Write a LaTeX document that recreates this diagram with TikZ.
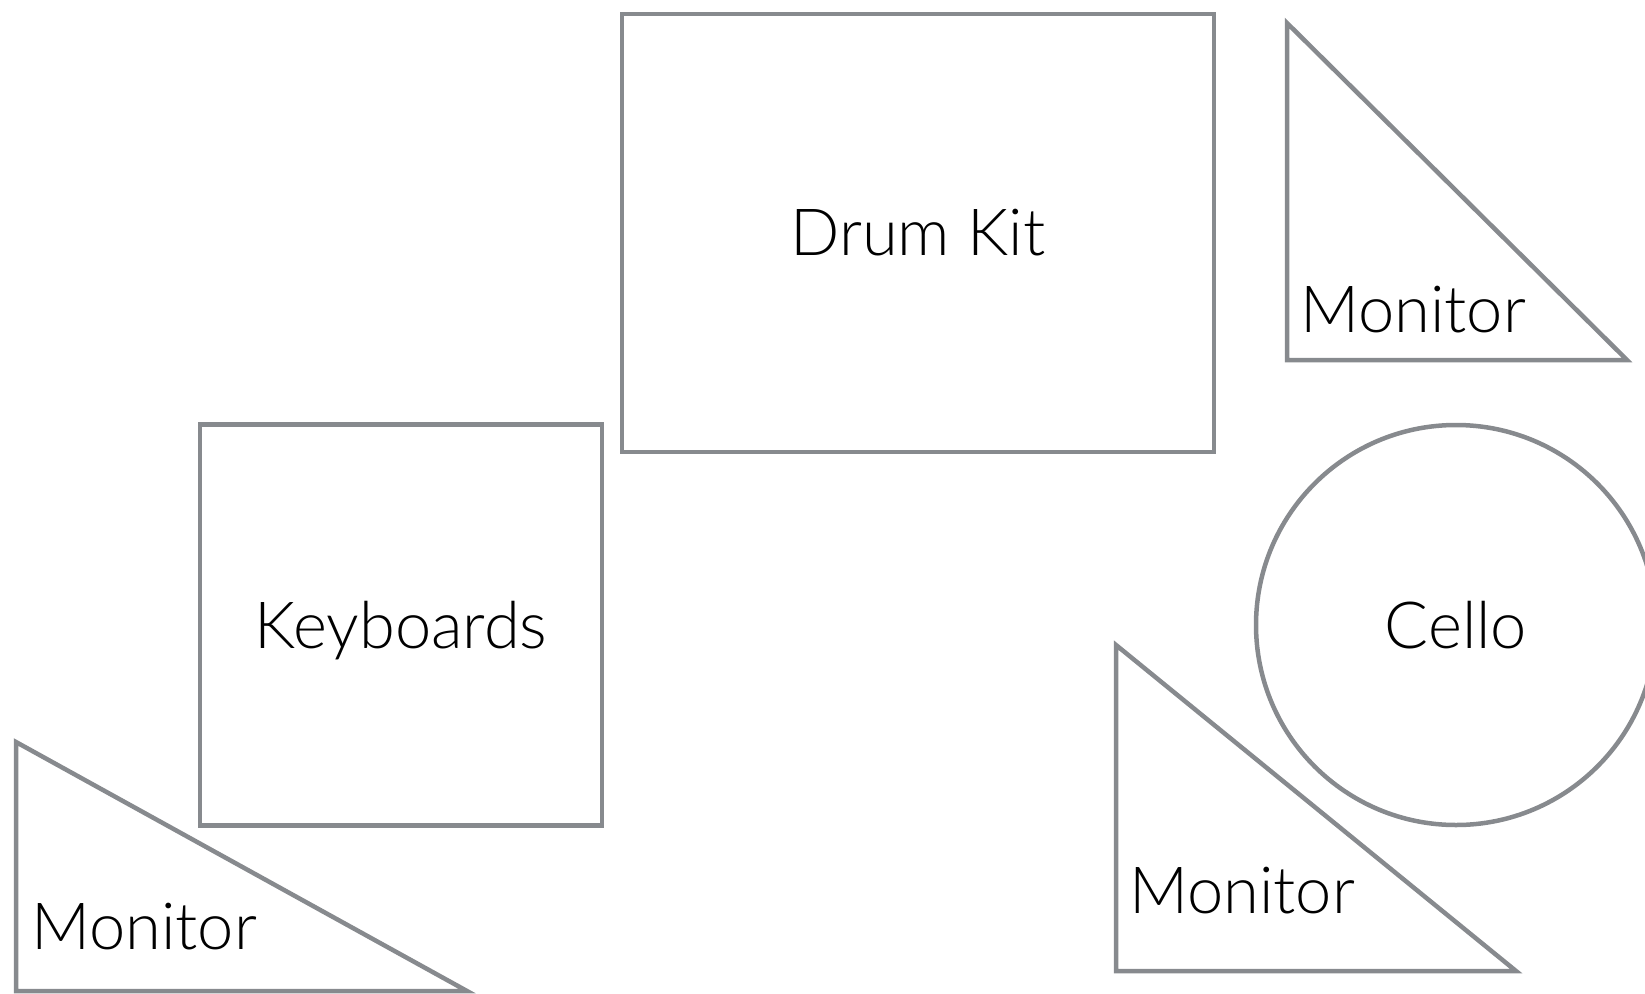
\documentclass[tikz,border=0pt]{standalone}
\usepackage{fontspec}
\setmainfont{Lato}[UprightFont=* Light]
\usepackage{xcolor}
\definecolor{edgegray}{RGB}{135,138,142}

\tikzset{
  stagebox/.style={draw=edgegray, line width=4.5pt, inner sep=0pt},
  monitor/.style={draw=edgegray, line width=4.5pt, line join=miter},
  monlabel/.style={anchor=base west, inner sep=0pt}
}

\begin{document}
\begin{tikzpicture}[x=1pt, y=-1pt, font=\fontsize{65}{78}\selectfont]

\useasboundingbox (0,0) rectangle (1645,993);

% Drum kit, keyboards and cello
\node[stagebox, minimum width=592pt, minimum height=438pt] (drums) at (918,233) {Drum Kit};
\node[stagebox, minimum width=402pt, minimum height=401pt, text depth=0pt] (keys) at (401,625) {Keyboards};
\node[stagebox, circle, minimum size=400pt] (cello) at (1456,625) {Cello};

% Monitors
\draw[monitor] (1287,23) coordinate (mon1a) -- (1287,360) coordinate (mon1b) -- (1627,360) coordinate (mon1c) -- cycle;
\node[monlabel] (mon1) at (1300,332) {Monitor};

\draw[monitor] (1116,645) coordinate (mon2a) -- (1116,971) coordinate (mon2b) -- (1516,971) coordinate (mon2c) -- cycle;
\node[monlabel] (mon2) at (1129,913) {Monitor};

\draw[monitor] (16,742) coordinate (mon3a) -- (16,991) coordinate (mon3b) -- (467,991) coordinate (mon3c) -- cycle;
\node[monlabel] (mon3) at (31,949) {Monitor};

\end{tikzpicture}
\end{document}
